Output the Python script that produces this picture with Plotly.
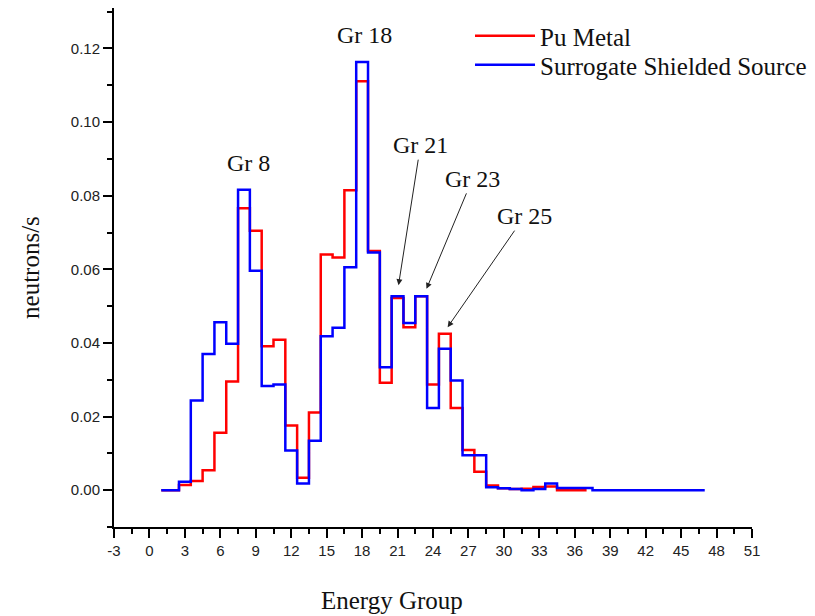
import plotly.graph_objects as go

# ---- data ----
groups_blue = list(range(1, 48))
surrogate = [0.0, 0.0, 0.0023, 0.0244, 0.0370, 0.0456, 0.0398, 0.0816, 0.0596, 0.0283,
             0.0287, 0.0108, 0.0018, 0.0134, 0.0418, 0.0441, 0.0606, 0.1163, 0.0646, 0.0334,
             0.0527, 0.0454, 0.0527, 0.0223, 0.0384, 0.0298, 0.0095, 0.0095, 0.0008, 0.0005,
             0.0003, 0.0000, 0.0003, 0.0018, 0.0006, 0.0006, 0.0006, 0.0, 0.0, 0.0,
             0.0, 0.0, 0.0, 0.0, 0.0, 0.0, 0.0]
groups_red = list(range(1, 38))
pu_metal = [0.0, 0.0, 0.0014, 0.0025, 0.0054, 0.0156, 0.0295, 0.0766, 0.0705, 0.0391,
            0.0409, 0.0176, 0.0034, 0.0211, 0.0640, 0.0632, 0.0815, 0.1111, 0.0650, 0.0292,
            0.0522, 0.0443, 0.0527, 0.0287, 0.0425, 0.0223, 0.0109, 0.0050, 0.0013, 0.0005,
            0.0003, 0.0004, 0.0009, 0.0010, 0.0, 0.0, 0.0]

x_ticks = list(range(-3, 52, 3))
y_ticks = [0.00, 0.02, 0.04, 0.06, 0.08, 0.10, 0.12]

SERIF = "Liberation Serif, Times New Roman, serif"
TICKFONT = "Liberation Sans Narrow, Arial Narrow, Liberation Sans, sans-serif"

fig = go.Figure()
fig.add_trace(go.Scatter(x=groups_red, y=pu_metal, mode="lines", name="Pu Metal",
                         legend="legend",
                         line=dict(color="#ff0000", width=2.5, shape="hvh")))
fig.add_trace(go.Scatter(x=groups_blue, y=surrogate, mode="lines", name="Surrogate Shielded Source",
                         legend="legend2",
                         line=dict(color="#0000ff", width=2.5, shape="hvh")))

annots = []
annots.append(dict(x=8.4, y=0.0890, text="Gr 8", showarrow=False))
annots.append(dict(x=18.2, y=0.1238, text="Gr 18", showarrow=False))
arrow_specs = [("Gr 21", 21, surrogate[20], 0.08, 0.003, 22, -140),
               ("Gr 23", 23, surrogate[22], 0.45, 0.002, 46, -110),
               ("Gr 25", 25, pu_metal[24], 0.24, 0.0018, 77, -111)]
for txt, g, v, dx, dy, ax, ay in arrow_specs:
    annots.append(dict(x=g + dx, y=v + dy, text=txt, showarrow=True, ax=ax, ay=ay,
                       arrowhead=2, arrowsize=1.2, arrowwidth=1, arrowcolor="#222222"))
for a in annots:
    a["font"] = dict(family=SERIF, size=24, color="#111111")

annots.append(dict(xref="paper", yref="paper", x=0.435, y=-0.142, text="Energy Group",
                   showarrow=False, yanchor="middle",
                   font=dict(family=SERIF, size=25, color="#111111")))
annots.append(dict(xref="paper", yref="paper", x=-0.131, y=0.5, text="neutrons/s",
                   showarrow=False, textangle=-90, xanchor="center",
                   font=dict(family=SERIF, size=25, color="#111111")))

leg_common = dict(xanchor="left", yanchor="middle", bgcolor="rgba(0,0,0,0)",
                  itemwidth=60, font=dict(family=SERIF, size=25, color="#111111"))

fig.update_layout(
    width=815, height=616,
    margin=dict(l=114, r=63, t=8, b=89, autoexpand=False),
    paper_bgcolor="white", plot_bgcolor="white",
    showlegend=True,
    legend=dict(x=0.558, y=0.946, **leg_common),
    legend2=dict(x=0.558, y=0.890, **leg_common),
    annotations=annots,
    xaxis=dict(range=[-3, 51], tickmode="array", tickvals=x_ticks,
               ticktext=[str(v) for v in x_ticks],
               showline=True, linecolor="black", linewidth=2, mirror=False,
               ticks="outside", ticklen=9, tickwidth=2, tickcolor="black",
               minor=dict(dtick=1.5, tick0=-3, ticks="outside", ticklen=5, tickwidth=2,
                          tickcolor="black"),
               showgrid=False, zeroline=False, automargin=False,
               tickfont=dict(family=TICKFONT, size=15, color="#222222")),
    yaxis=dict(range=[-0.01, 0.131], tickmode="array", tickvals=y_ticks,
               ticktext=[f"{v:.2f}" for v in y_ticks],
               showline=True, linecolor="black", linewidth=2, mirror=False,
               ticks="outside", ticklen=9, tickwidth=2, tickcolor="black",
               minor=dict(dtick=0.01, tick0=0, ticks="outside", ticklen=5, tickwidth=2,
                          tickcolor="black"),
               showgrid=False, zeroline=False, automargin=False,
               tickfont=dict(family=TICKFONT, size=15, color="#222222")),
)

fig.write_html("out.html", config={"displayModeBar": False},
               post_script="document.body.style.margin='0px';")
